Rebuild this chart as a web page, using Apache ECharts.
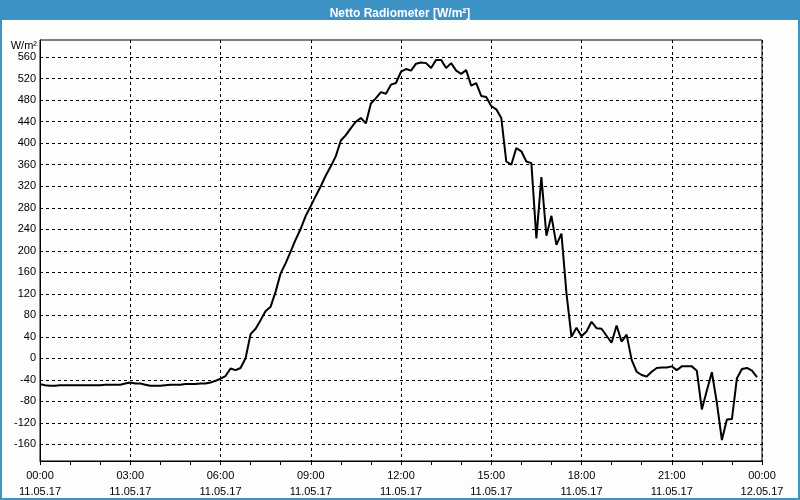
<!DOCTYPE html>
<html>
<head>
<meta charset="utf-8">
<script src="https://cdn.jsdelivr.net/npm/echarts@6/dist/echarts.min.js"></script>
<style>
html,body{margin:0;padding:0;background:#fcfefc;}
#c{width:800px;height:500px;}
</style>
</head>
<body>
<div id="c"></div>
<script>
var titleText = 'Netto Radiometer [W/m²]';
var unitText = 'W/m²';
var yTicks = [-160,-120,-80,-40,0,40,80,120,160,200,240,280,320,360,400,440,480,520,560];
var xTickMinutes = [0,180,360,540,720,900,1080,1260,1440];
var xTimeLabels = ['00:00','03:00','06:00','09:00','12:00','15:00','18:00','21:00','00:00'];
var xDateLabels = ['11.05.17','11.05.17','11.05.17','11.05.17','11.05.17','11.05.17','11.05.17','11.05.17','12.05.17'];

var times = [
'00:00','00:10','00:20','00:30','00:40','00:50','01:00','01:10','01:20','01:30','01:40','01:50',
'02:00','02:10','02:20','02:30','02:40','02:50','03:00','03:10','03:20','03:30','03:40','03:50',
'04:00','04:10','04:20','04:30','04:40','04:50','05:00','05:10','05:20','05:30','05:40','05:50',
'06:00','06:10','06:20','06:30','06:40','06:50','07:00','07:10','07:20','07:30','07:40','07:50',
'08:00','08:10','08:20','08:30','08:40','08:50','09:00','09:10','09:20','09:30','09:40','09:50',
'10:00','10:10','10:20','10:30','10:40','10:50','11:00','11:10','11:20','11:30','11:40','11:50',
'12:00','12:10','12:20','12:30','12:40','12:50','13:00','13:10','13:20','13:30','13:40','13:50',
'14:00','14:10','14:20','14:30','14:40','14:50','15:00','15:10','15:20','15:30','15:40','15:50',
'16:00','16:10','16:20','16:30','16:40','16:50','17:00','17:10','17:20','17:30','17:40','17:50',
'18:00','18:10','18:20','18:30','18:40','18:50','19:00','19:10','19:20','19:30','19:40','19:50',
'20:00','20:10','20:20','20:30','20:40','20:50','21:00','21:10','21:20','21:30','21:40','21:50',
'22:00','22:10','22:20','22:30','22:40','22:50','23:00','23:10','23:20','23:30','23:40','23:50'
];
var radiation = [
-48,-50,-51,-51,-50,-50,-50,-50,-50,-50,-50,-50,
-50,-49,-49,-49,-49,-47,-45,-47,-47,-49,-51,-51,
-51,-50,-49,-49,-49,-48,-48,-48,-47,-47,-45,-42,
-38,-33,-19,-22,-18,0,45,55,71,88,96,124,
158,177,199,221,241,265,283,302,320,340,357,376,
405,415,428,440,447,437,474,484,495,492,509,512,
533,538,535,548,550,549,540,555,555,540,549,535,
529,536,507,512,488,486,469,463,447,366,360,391,
385,366,363,223,337,228,265,211,232,121,40,57,
41,50,68,56,55,42,29,61,31,44,-3,-25,
-31,-34,-25,-18,-17,-17,-15,-22,-15,-15,-15,-23,
-95,-60,-26,-83,-152,-114,-113,-37,-20,-18,-23,-35
];

function toMin(t){var p=t.split(':');return (+p[0])*60+(+p[1]);}
var seriesData = times.map(function(t,i){return [toMin(t), radiation[i]];});

var chart = echarts.init(document.getElementById('c'), null, {renderer:'canvas'});
var font = 'Liberation Sans, Arial, sans-serif';
chart.setOption({
  backgroundColor:'#fcfefc',
  animation:false,
  title:{
    text:titleText, left:'center', top:3,
    textStyle:{color:'#ffffff', fontWeight:'bold', fontSize:12, fontFamily:font}
  },
  graphic:[
    {type:'rect', z:-1, shape:{x:0,y:0,width:800,height:20}, style:{fill:'#3d92c6'}},
    {type:'rect', z:-1, shape:{x:1,y:1,width:798,height:498}, style:{fill:'none', stroke:'#3d92c6', lineWidth:2}}
  ],
  grid:{left:40, right:38, top:40, bottom:38, show:true, borderColor:'#000', borderWidth:1, backgroundColor:'transparent'},
  xAxis:{
    type:'value', min:0, max:1440, interval:180,
    axisLine:{show:true, onZero:false, lineStyle:{color:'#000', width:1}},
    axisTick:{show:true, length:4, inside:false, lineStyle:{color:'#000'}},
    minorTick:{show:true, splitNumber:3, length:4, lineStyle:{color:'#000'}},
    splitLine:{show:true, lineStyle:{color:'#000', type:[3,3], width:1}},
    axisLabel:{
      margin:7, color:'#000', fontSize:11, fontFamily:font, lineHeight:16,
      formatter:function(v){var i=xTickMinutes.indexOf(v); return i<0?'':xTimeLabels[i]+'\n'+xDateLabels[i];}
    }
  },
  yAxis:{
    type:'value', min:-191, max:592,
    name:unitText, nameLocation:'end', nameGap:-6,
    nameTextStyle:{color:'#000', fontSize:11, fontFamily:font, align:'right', verticalAlign:'middle', padding:[0,3,0,0]},
    axisLine:{show:true, onZero:false, lineStyle:{color:'#000', width:1}},
    axisTick:{show:false, customValues:yTicks},
    splitLine:{show:true, lineStyle:{color:'#000', type:[3,3], width:1}},
    axisLabel:{customValues:yTicks, margin:4, color:'#000', fontSize:11, fontFamily:font}
  },
  series:[{
    type:'line', data:seriesData, showSymbol:false, symbol:'none',
    lineStyle:{color:'#000', width:2}, smooth:false
  }]
});
</script>
</body>
</html>
